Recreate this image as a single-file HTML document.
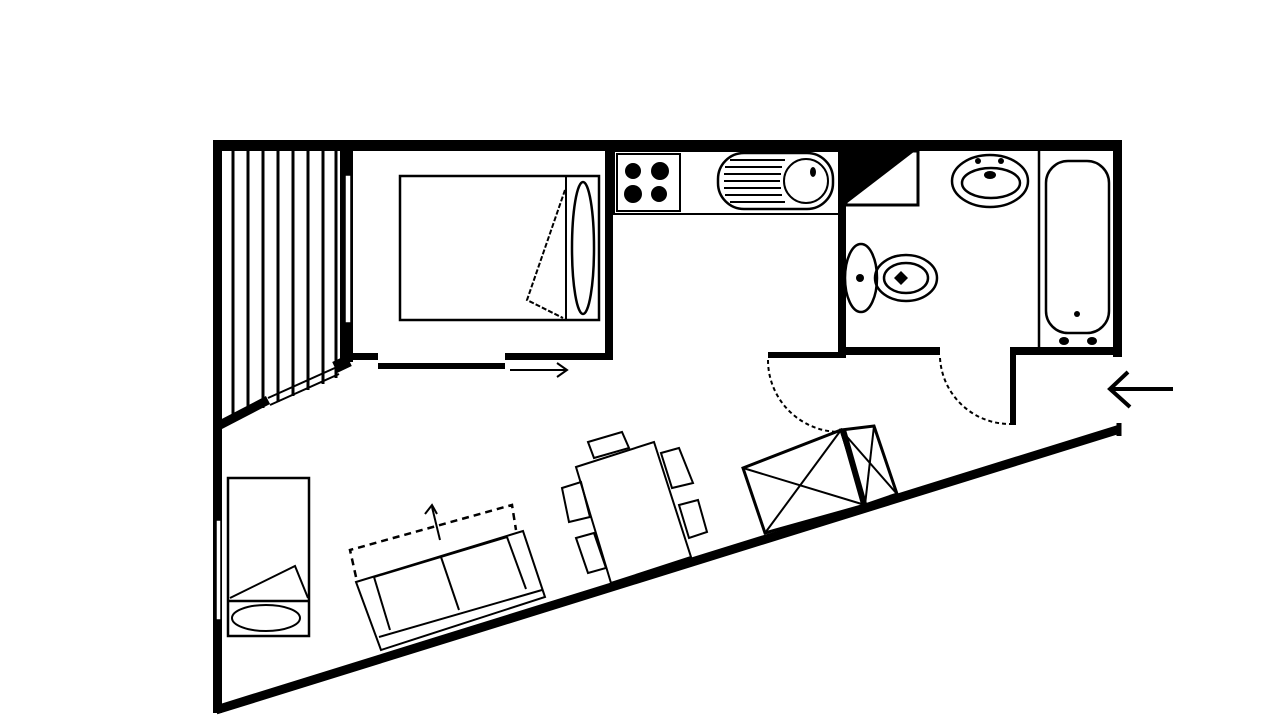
<!DOCTYPE html>
<html><head><meta charset="utf-8"><style>
html,body{margin:0;padding:0;background:#fff;width:1280px;height:720px;overflow:hidden}
svg{display:block}
</style></head><body>
<svg width="1280" height="720" viewBox="0 0 1280 720" xmlns="http://www.w3.org/2000/svg" fill="none" stroke="#000">
<!-- outer walls -->
<rect x="213" y="140" width="909" height="11" fill="#000" stroke="none"/>
<rect x="213" y="140" width="9" height="573" fill="#000" stroke="none"/>
<rect x="1113" y="140" width="9" height="217" fill="#000" stroke="none"/>
<line x1="216" y1="710" x2="1120" y2="429" stroke-width="9"/>
<line x1="1119" y1="423" x2="1119" y2="436" stroke-width="5"/>
<!-- balcony -->
<g stroke-width="3">
<line x1="233" y1="151" x2="233" y2="420"/>
<line x1="248" y1="151" x2="248" y2="414"/>
<line x1="263" y1="151" x2="263" y2="408"/>
<line x1="278" y1="151" x2="278" y2="402"/>
<line x1="293" y1="151" x2="293" y2="396"/>
<line x1="308" y1="151" x2="308" y2="390"/>
<line x1="323" y1="151" x2="323" y2="384"/>
<line x1="336" y1="151" x2="336" y2="378"/>
</g>
<line x1="218" y1="426" x2="268" y2="400" stroke-width="9"/>
<line x1="268" y1="398" x2="337" y2="367" stroke-width="2"/>
<line x1="270" y1="405" x2="339" y2="374" stroke-width="2"/>
<rect x="334" y="358" width="16" height="12" fill="#000" stroke="none" transform="rotate(-25 342 364)"/>
<!-- balcony/bedroom wall -->
<rect x="340" y="140" width="13" height="222" fill="#000" stroke="none"/>
<rect x="345" y="175" width="6" height="148" fill="#fff" stroke="#000" stroke-width="1.5"/>
<!-- bedroom -->
<rect x="605" y="140" width="8" height="220" fill="#000" stroke="none"/>
<rect x="353" y="353" width="25" height="7" fill="#000" stroke="none"/>
<rect x="505" y="353" width="108" height="7" fill="#000" stroke="none"/>
<rect x="378" y="363" width="127" height="6" fill="#000" stroke="none"/>
<line x1="510" y1="370" x2="567" y2="370" stroke-width="2"/>
<polyline points="557,363 567,370 557,377" stroke-width="2"/>
<rect x="400" y="176" width="199" height="144" stroke-width="2.5"/>
<line x1="566" y1="176" x2="566" y2="320" stroke-width="2"/>
<ellipse cx="583" cy="248" rx="11" ry="66" stroke-width="2.5"/>
<polyline points="565,190 527,300 563,318" stroke-width="2" stroke-dasharray="5 2"/>
<!-- kitchen -->
<rect x="614" y="151" width="225" height="63" stroke-width="2"/>
<rect x="617" y="154" width="63" height="57" stroke-width="2"/>
<g fill="#000" stroke="none">
<circle cx="633" cy="171" r="8"/><circle cx="660" cy="171" r="9"/>
<circle cx="633" cy="194" r="9"/><circle cx="659" cy="194" r="8"/>
</g>
<rect x="718" y="153" width="115" height="56" rx="26" stroke-width="2.5"/>
<circle cx="806" cy="181" r="22" stroke-width="2"/>
<ellipse cx="813" cy="172" rx="3" ry="5" fill="#000" stroke="none"/>
<g stroke-width="2">
<line x1="730" y1="160" x2="785" y2="160"/><line x1="725" y1="167" x2="782" y2="167"/>
<line x1="724" y1="174" x2="781" y2="174"/><line x1="724" y1="181" x2="780" y2="181"/>
<line x1="724" y1="188" x2="781" y2="188"/><line x1="725" y1="195" x2="782" y2="195"/>
<line x1="730" y1="202" x2="785" y2="202"/>
</g>
<rect x="838" y="140" width="8" height="218" fill="#000" stroke="none"/>
<rect x="768" y="352" width="78" height="6" fill="#000" stroke="none"/>
<path d="M768 360 A72 72 0 0 0 840 432" stroke-width="2" stroke-dasharray="4 3"/>
<!-- cupboard -->
<rect x="846" y="151" width="72" height="54" stroke-width="3"/>
<polygon points="846,151 915,151 846,204" fill="#000" stroke="none"/>
<!-- bathroom -->
<rect x="846" y="347" width="94" height="8" fill="#000" stroke="none"/>
<rect x="1010" y="347" width="112" height="8" fill="#000" stroke="none"/>
<rect x="1010" y="347" width="6" height="78" fill="#000" stroke="none"/>
<path d="M940 358 A70 70 0 0 0 1010 424" stroke-width="2" stroke-dasharray="4 3"/>
<ellipse cx="990" cy="181" rx="38" ry="26" stroke-width="2.5"/>
<ellipse cx="991" cy="183" rx="29" ry="15" stroke-width="2.5"/>
<ellipse cx="990" cy="175" rx="6" ry="4" fill="#000" stroke="none"/>
<circle cx="978" cy="161" r="3" fill="#000" stroke="none"/><circle cx="1001" cy="161" r="3" fill="#000" stroke="none"/>
<line x1="1039" y1="151" x2="1039" y2="348" stroke-width="2.5"/>
<rect x="1046" y="161" width="63" height="172" rx="22" stroke-width="2.5"/>
<circle cx="1077" cy="314" r="3" fill="#000" stroke="none"/>
<ellipse cx="1064" cy="341" rx="5" ry="4" fill="#000" stroke="none"/><ellipse cx="1092" cy="341" rx="5" ry="4" fill="#000" stroke="none"/>
<ellipse cx="861" cy="278" rx="16" ry="34" stroke-width="2.5"/>
<circle cx="860" cy="278" r="4" fill="#000" stroke="none"/>
<ellipse cx="906" cy="278" rx="31" ry="23" stroke-width="2.5"/>
<ellipse cx="906" cy="278" rx="22" ry="15" stroke-width="2.5"/>
<polygon points="901,271 908,278 901,285 894,278" fill="#000" stroke="none"/>
<!-- entry arrow -->
<line x1="1110" y1="389" x2="1173" y2="389" stroke-width="4"/>
<polyline points="1128,372 1110,389 1130,407" stroke-width="4"/>
<!-- wardrobe -->
<polygon points="743,468 841,430 865,505 765,533" stroke-width="3"/>
<line x1="743" y1="468" x2="865" y2="505" stroke-width="2"/>
<line x1="841" y1="430" x2="765" y2="533" stroke-width="2"/>
<polygon points="841,430 874,426 897,494 865,505" stroke-width="3"/>
<line x1="841" y1="430" x2="897" y2="494" stroke-width="2"/>
<line x1="874" y1="426" x2="865" y2="505" stroke-width="2"/>
<line x1="843" y1="430" x2="864" y2="504" stroke-width="6"/>
<!-- table & chairs -->
<g stroke-width="2">
<polygon points="576,467 654,442 691,557 611,583"/>
<polygon points="588,442 622,432 629,448 594,458"/>
<polygon points="562,488 581,482 590,517 569,522"/>
<polygon points="576,538 594,533 606,568 588,573"/>
<polygon points="661,453 679,448 693,483 672,488"/>
<polygon points="679,505 698,500 707,532 689,538"/>
</g>
<!-- sofa -->
<g stroke-width="2">
<polygon points="356,582 523,531 545,597 381,650"/>
<line x1="374" y1="577" x2="390" y2="630"/>
<line x1="507" y1="537" x2="526" y2="589"/>
<line x1="379" y1="637" x2="542" y2="590"/>
<line x1="441" y1="557" x2="459" y2="610"/>
<line x1="374" y1="577" x2="507" y2="537"/>
</g>
<g stroke-width="2.5" stroke-dasharray="7 5">
<polyline points="356,577 350,550 512,505 516,530"/>
</g>
<line x1="440" y1="540" x2="432" y2="507" stroke-width="2"/>
<polyline points="425,514 432,505 437,514" stroke-width="2"/>
<!-- single bed -->
<rect x="216" y="520" width="5" height="100" fill="#fff" stroke="#000" stroke-width="1.5"/>
<rect x="228" y="478" width="81" height="158" stroke-width="2.5"/>
<line x1="228" y1="601" x2="309" y2="601" stroke-width="2.5"/>
<polyline points="230,598 295,566 308,598" stroke-width="2"/>
<ellipse cx="266" cy="618" rx="34" ry="13" stroke-width="2"/>
</svg>
</body></html>
